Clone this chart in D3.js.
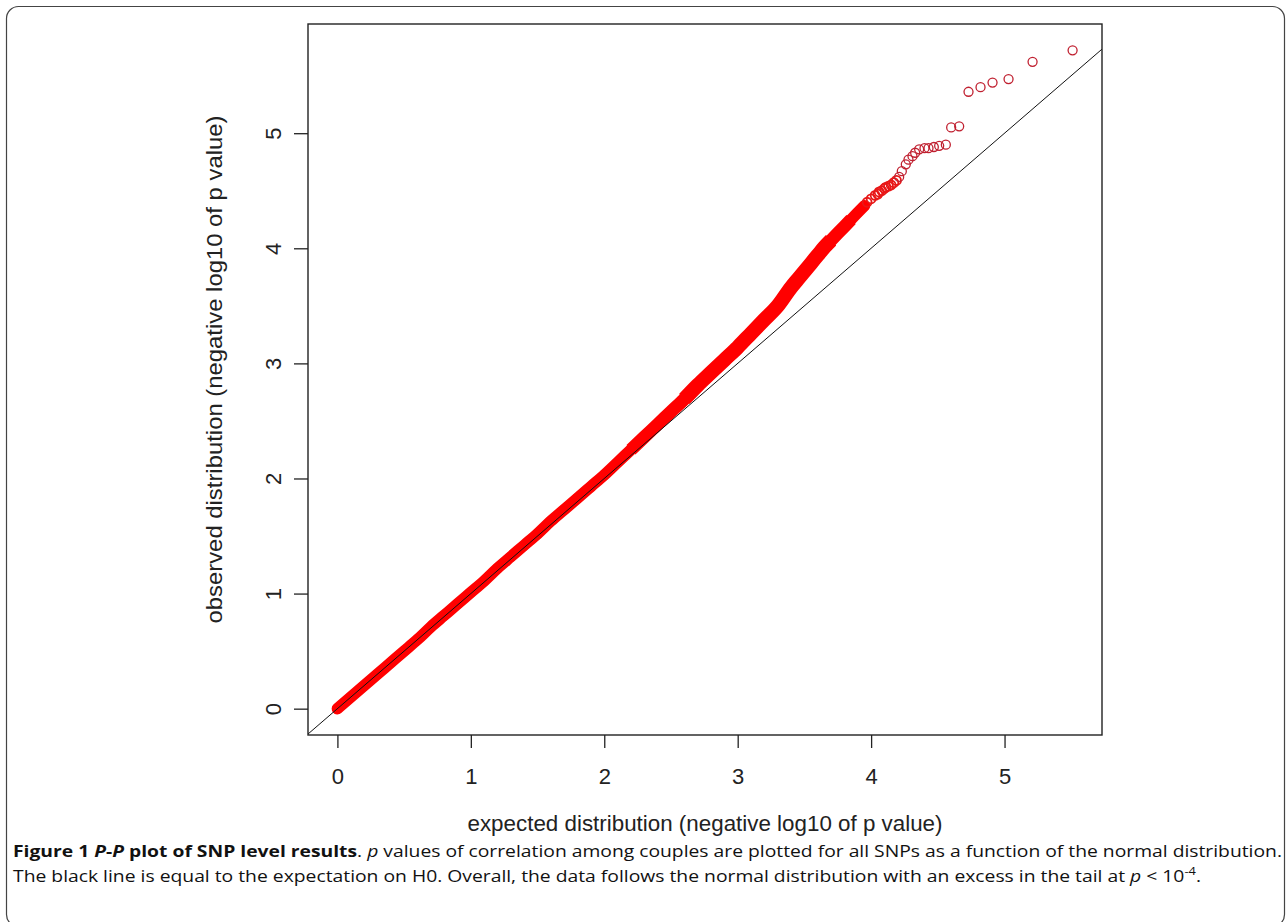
<!DOCTYPE html>
<html>
<head>
<meta charset="utf-8">
<script src="https://cdn.jsdelivr.net/npm/d3@7"></script>
<style>
  body { margin: 0; background: #fff; }
  svg { display: block; }
</style>
</head>
<body>
<div id="chart"></div>
<script>
"use strict";

// expected vs observed -log10(p)
// dense part where the circles overplot into a ribbon
var bandExp = [0.00, 0.10, 0.20, 0.30, 0.40, 0.50, 0.60, 0.70, 0.80, 0.90,
               1.00, 1.10, 1.20, 1.30, 1.40, 1.50, 1.60, 1.70, 1.80, 1.90,
               2.00, 2.10, 2.20, 2.30, 2.40, 2.50, 2.60, 2.70, 2.80, 2.90,
               3.00, 3.10, 3.20, 3.30, 3.40, 3.45, 3.50, 3.55, 3.60, 3.65,
               3.70, 3.75, 3.80, 3.85, 3.90, 3.95];
var bandObs = [0.00, 0.10, 0.20, 0.30, 0.40, 0.50, 0.60, 0.71, 0.81, 0.91,
               1.01, 1.11, 1.22, 1.32, 1.42, 1.52, 1.63, 1.73, 1.83, 1.93,
               2.03, 2.14, 2.25, 2.36, 2.47, 2.58, 2.69, 2.81, 2.92, 3.03,
               3.14, 3.26, 3.38, 3.50, 3.66, 3.73, 3.80, 3.87, 3.94, 4.01,
               4.07, 4.13, 4.19, 4.25, 4.31, 4.37];

// sparser tail, single circles
var tailExp = [3.97, 4.00, 4.03, 4.05, 4.06, 4.08, 4.10, 4.11, 4.13, 4.15,
               4.17, 4.19, 4.21, 4.23, 4.26, 4.28, 4.31, 4.33, 4.36, 4.40,
               4.43, 4.47, 4.51, 4.56, 4.60, 4.66, 4.73, 4.82, 4.91, 5.03,
               5.21, 5.51];
var tailObs = [4.40, 4.43, 4.46, 4.47, 4.49, 4.50, 4.52, 4.53, 4.54, 4.55,
               4.57, 4.59, 4.62, 4.67, 4.73, 4.77, 4.80, 4.83, 4.86, 4.87,
               4.87, 4.88, 4.89, 4.90, 5.05, 5.06, 5.36, 5.40, 5.44, 5.47,
               5.62, 5.72];

var xTicks = [0, 1, 2, 3, 4, 5];
var yTicks = [0, 1, 2, 3, 4, 5];

var W = 1287, H = 922;
var box = { left: 308, top: 24, right: 1102, bottom: 735 };

var svg = d3.select("#chart").append("svg")
  .attr("width", W).attr("height", H);

// outer figure frame
svg.append("rect")
  .attr("x", 6.5).attr("y", 6.5)
  .attr("width", 1278).attr("height", 920)
  .attr("rx", 12).attr("ry", 12)
  .attr("fill", "none").attr("stroke", "#444").attr("stroke-width", 1.2);

// R style axis range: data range plus 4% each side
function rRange(vals) {
  var lo = d3.min(vals), hi = d3.max(vals), pad = (hi - lo) * 0.04;
  return [lo - pad, hi + pad];
}
var allExp = bandExp.concat(tailExp), allObs = bandObs.concat(tailObs);

var x = d3.scaleLinear().domain(rRange(allExp)).range([box.left, box.right]);
var y = d3.scaleLinear().domain(rRange(allObs)).range([box.bottom, box.top]);

svg.append("clipPath").attr("id", "plotclip")
  .append("rect")
  .attr("x", box.left).attr("y", box.top)
  .attr("width", box.right - box.left).attr("height", box.bottom - box.top);

var plot = svg.append("g").attr("clip-path", "url(#plotclip)");

var band = bandExp.map(function (d, i) { return [d, bandObs[i]]; });
var tail = tailExp.map(function (d, i) { return [d, tailObs[i]]; });

var line = d3.line()
  .x(function (d) { return x(d[0]); })
  .y(function (d) { return y(d[1]); })
  .curve(d3.curveMonotoneX);

// overplotted ribbon, a bit wider where the points scatter more
function ribbon(lo, hi, w, cap) {
  plot.append("path")
    .datum(band.filter(function (d) { return d[0] >= lo && d[0] <= hi; }))
    .attr("d", line)
    .attr("fill", "none")
    .attr("stroke", "#ff0000")
    .attr("stroke-width", w)
    .attr("stroke-linecap", cap)
    .attr("stroke-linejoin", "round");
}
ribbon(0, 4, 11.5, "round");
ribbon(2.2, 3.85, 13, "butt");
ribbon(2.6, 3.7, 14.5, "butt");

plot.selectAll("circle.b")
  .data(band)
  .enter().append("circle")
  .attr("class", "b")
  .attr("cx", function (d) { return x(d[0]); })
  .attr("cy", function (d) { return y(d[1]); })
  .attr("r", 4.5)
  .attr("fill", "none")
  .attr("stroke", "#ff0000")
  .attr("stroke-width", 1.5);

plot.selectAll("circle.t")
  .data(tail)
  .enter().append("circle")
  .attr("class", "t")
  .attr("cx", function (d) { return x(d[0]); })
  .attr("cy", function (d) { return y(d[1]); })
  .attr("r", 4.5)
  .attr("fill", "none")
  .attr("stroke", function (d) { return d[0] < 4.2 ? "#e81818" : "#c02030"; })
  .attr("stroke-width", function (d) { return d[0] < 4.2 ? 1.8 : 1.3; });

// y = x expectation line, full width of the box
var xd = x.domain();
plot.append("line")
  .attr("x1", x(xd[0])).attr("y1", y(xd[0]))
  .attr("x2", x(xd[1])).attr("y2", y(xd[1]))
  .attr("stroke", "#111").attr("stroke-width", 1);

// box
svg.append("rect")
  .attr("x", box.left).attr("y", box.top)
  .attr("width", box.right - box.left).attr("height", box.bottom - box.top)
  .attr("fill", "none").attr("stroke", "#222").attr("stroke-width", 1.4);

// axes
var xAxis = d3.axisBottom(x).tickValues(xTicks).tickSize(13).tickPadding(20)
  .tickFormat(d3.format("d"));
var gx = svg.append("g").attr("transform", "translate(0," + box.bottom + ")").call(xAxis);
gx.select(".domain").remove();
gx.selectAll(".tick line").attr("stroke", "#222").attr("stroke-width", 1.3);
gx.selectAll(".tick text")
  .attr("font-family", "Liberation Sans, Arial, sans-serif")
  .attr("font-size", 22).attr("fill", "#222");

var yAxis = d3.axisLeft(y).tickValues(yTicks).tickSize(14).tickPadding(0)
  .tickFormat(d3.format("d"));
var gy = svg.append("g").attr("transform", "translate(" + box.left + ",0)").call(yAxis);
gy.select(".domain").remove();
gy.selectAll(".tick line").attr("stroke", "#222").attr("stroke-width", 1.3);
gy.selectAll(".tick text")
  .attr("font-family", "Liberation Sans, Arial, sans-serif")
  .attr("font-size", 22).attr("fill", "#222")
  .attr("text-anchor", "middle")
  .attr("x", null).attr("dy", null)
  .attr("transform", "translate(-27,0) rotate(-90)");

// axis titles
svg.append("text")
  .attr("x", (box.left + box.right) / 2).attr("y", 831)
  .attr("text-anchor", "middle")
  .attr("font-family", "Liberation Sans, Arial, sans-serif")
  .attr("font-size", 22).attr("fill", "#222")
  .attr("textLength", 475).attr("lengthAdjust", "spacingAndGlyphs")
  .text("expected distribution (negative log10 of p value)");

svg.append("text")
  .attr("transform", "translate(222," + ((box.top + box.bottom) / 2 - 10) + ") rotate(-90)")
  .attr("text-anchor", "middle")
  .attr("font-family", "Liberation Sans, Arial, sans-serif")
  .attr("font-size", 22).attr("fill", "#222")
  .attr("textLength", 508).attr("lengthAdjust", "spacingAndGlyphs")
  .text("observed distribution (negative log10 of p value)");

// caption
var cap = svg.append("g")
  .attr("font-family", "Open Sans, Noto Sans, sans-serif")
  .attr("font-size", 16.5).attr("fill", "#111");

var l1 = cap.append("text").attr("x", 13).attr("y", 857)
  .attr("textLength", 1269).attr("lengthAdjust", "spacingAndGlyphs");
l1.append("tspan").attr("font-weight", "bold").text("Figure 1 ");
l1.append("tspan").attr("font-weight", "bold").attr("font-style", "italic").text("P");
l1.append("tspan").attr("font-weight", "bold").text("-");
l1.append("tspan").attr("font-weight", "bold").attr("font-style", "italic").text("P");
l1.append("tspan").attr("font-weight", "bold").text(" plot of SNP level results");
l1.append("tspan").text(". ");
l1.append("tspan").attr("font-style", "italic").text("p");
l1.append("tspan").text(" values of correlation among couples are plotted for all SNPs as a function of the normal distribution.");

var l2 = cap.append("text").attr("x", 13).attr("y", 882)
  .attr("textLength", 1188).attr("lengthAdjust", "spacingAndGlyphs");
l2.append("tspan").text("The black line is equal to the expectation on H0. Overall, the data follows the normal distribution with an excess in the tail at ");
l2.append("tspan").attr("font-style", "italic").text("p");
l2.append("tspan").text(" < 10");
l2.append("tspan").attr("font-size", 11).attr("dy", -7).text("-4");
l2.append("tspan").attr("dy", 7).text(".");
</script>
</body>
</html>
